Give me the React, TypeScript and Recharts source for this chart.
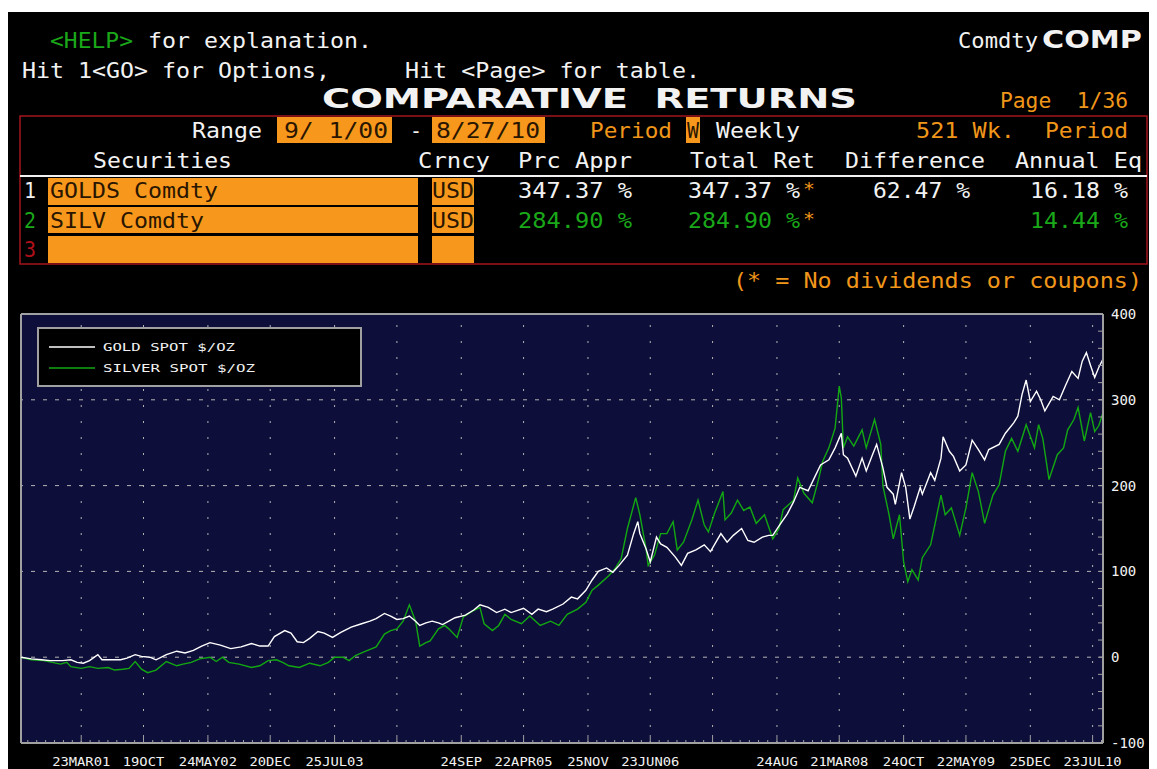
import React from 'react'
import { LineChart, Line, XAxis, YAxis, CartesianGrid, ReferenceLine } from 'recharts'

// weekly returns (%) since 9/1/00
const goldWeeks = [
  0, 5, 10, 14, 20, 24, 27, 30, 33, 37, 39, 44, 48, 51, 55, 58, 62, 65, 70, 75, 79, 83, 87, 91, 96,
  101, 106, 111, 115, 119, 122, 127, 130, 133, 136, 139, 143, 146, 150, 154, 159, 164, 168, 171, 175, 178,
  181, 184, 187, 190, 192, 195, 198, 201, 203, 206, 209, 214, 218, 221, 225, 229, 233, 236, 242, 246, 249,
  253, 256, 261, 265, 268, 272, 275, 278, 282, 285, 288, 292, 295, 297, 298, 301, 303, 306, 308, 311, 315,
  318, 321, 325, 329, 332, 337, 340, 343, 347, 350, 353, 357, 360, 362, 365, 369, 372, 375, 379, 382, 385,
  389, 392, 395, 396, 398, 402, 405, 407, 410, 412, 415, 417, 420, 421, 424, 426, 428, 430, 433, 434, 438,
  440, 443, 444, 447, 449, 452, 455, 458, 461, 464, 466, 471, 474, 478, 480, 482, 484, 486, 489, 491, 493,
  497, 500, 503, 506, 509, 511, 513, 515, 517, 519, 521,
]
const goldReturn = [
  0, -2, -3, -4, -4, -3, -6, -7, -4, 3, -3, -3, -3, -1, 3, 1, 0, -3, 3, 7, 5, 8, 13, 17, 14,
  10, 12, 16, 13, 13, 24, 31, 28, 18, 17, 22, 30, 28, 23, 29, 35, 39, 42, 45, 51, 48,
  44, 45, 48, 42, 37, 40, 42, 40, 38, 42, 46, 49, 55, 61, 58, 52, 56, 52, 57, 50, 56,
  53, 56, 62, 70, 68, 78, 90, 100, 104, 99, 107, 119, 144, 158, 144, 126, 111, 140, 132, 128, 117,
  107, 121, 125, 131, 123, 144, 134, 142, 150, 136, 134, 140, 142, 142, 153, 167, 181, 198, 194, 209, 224,
  230, 244, 261, 236, 232, 211, 232, 217, 236, 248, 221, 198, 190, 178, 215, 198, 161, 175, 198, 190, 215,
  206, 232, 257, 240, 234, 217, 224, 253, 242, 230, 242, 248, 261, 273, 281, 306, 323, 298, 310, 300, 287,
  304, 300, 317, 333, 325, 345, 355, 340, 326, 338, 347.37,
]

const silverWeeks = [
  0, 5, 11, 15, 19, 22, 24, 29, 33, 37, 42, 45, 49, 52, 55, 58, 61, 65, 70, 75, 78, 82, 86, 91, 94,
  97, 100, 105, 111, 115, 119, 123, 126, 129, 134, 139, 144, 148, 151, 155, 158, 161, 166, 171, 175, 178,
  181, 184, 187, 190, 192, 195, 197, 201, 204, 206, 210, 213, 217, 221, 223, 227, 230, 233, 236, 241, 245,
  250, 255, 259, 263, 268, 272, 275, 278, 283, 286, 289, 292, 296, 298, 301, 302, 305, 308, 311, 314, 316,
  319, 323, 326, 329, 331, 334, 338, 339, 342, 345, 348, 351, 354, 358, 362, 365, 367, 372, 374, 377, 381,
  384, 386, 389, 392, 394, 395, 396, 398, 401, 405, 407, 411, 414, 415, 418, 420, 423, 425, 427, 429, 432,
  434, 438, 440, 443, 445, 448, 452, 455, 458, 461, 464, 468, 471, 474, 477, 480, 484, 488, 490, 492, 495,
  499, 502, 504, 507, 509, 512, 515, 517, 519, 521,
]
const silverReturn = [
  0, -3, -4, -6, -8, -6, -11, -13, -11, -13, -12, -15, -14, -13, -5, -14, -18, -15, -5, -10, -8, -6, -2, 0, -5,
  0, -6, -8, -12, -10, -4, -3, -6, -10, -12, -7, -10, -6, 0, 0, -4, 2, 7, 12, 27, 31,
  33, 42, 61, 42, 13, 17, 19, 33, 37, 33, 23, 47, 53, 58, 39, 31, 37, 50, 44, 39, 48,
  37, 42, 37, 50, 56, 64, 78, 84, 95, 103, 115, 150, 186, 166, 126, 107, 119, 144, 144, 158, 125,
  134, 160, 183, 154, 146, 168, 193, 160, 168, 183, 171, 175, 156, 166, 138, 150, 172, 183, 209, 191, 180,
  207, 228, 244, 267, 316, 302, 244, 257, 246, 265, 244, 277, 248, 200, 166, 138, 166, 111, 88, 102, 90,
  116, 131, 154, 189, 166, 174, 142, 174, 215, 193, 156, 189, 201, 240, 255, 240, 271, 244, 271, 255, 207,
  236, 244, 265, 277, 291, 252, 285, 263, 270, 284.9,
]

// axis dates (week index from 9/1/00) and their labels; two labels are not printed
const dateTicks = [29, 59, 90, 120, 151, 181, 212, 242, 273, 303, 333, 364, 394, 425, 455, 486, 516]
const dateLabels = [
  '23MAR01', '19OCT', '24MAY02', '20DEC', '25JUL03', '', '24SEP', '22APR05', '25NOV', '23JUN06', '',
  '24AUG', '21MAR08', '24OCT', '22MAY09', '25DEC', '23JUL10',
]
const valueGrid = [0, 100, 200, 300]

const seriesNames = ['GOLD SPOT $/OZ', 'SILVER SPOT $/OZ']
const seriesColors = ['#ffffff', '#12a812']

const goldData = goldWeeks.map((w, i) => ({ week: w, gold: goldReturn[i] }))
const silverData = silverWeeks.map((w, i) => ({ week: w, silver: silverReturn[i] }))

// monthly minor ticks between the 7-month major ticks
const monthTicks: number[] = []
{
  const step = (dateTicks[1] - dateTicks[0]) / 7
  for (let t = dateTicks[0] - step; t > 0; t -= step) monthTicks.push(t)
  for (let i = 0; i < dateTicks.length - 1; i++) {
    const a = dateTicks[i]
    const b = dateTicks[i + 1]
    for (let k = 1; k < 7; k++) monthTicks.push(a + ((b - a) * k) / 7)
  }
  monthTicks.push(dateTicks[dateTicks.length - 1] + step)
}
const xTicks = [...dateTicks, ...monthTicks].sort((a, b) => a - b)
const yTicks: number[] = []
for (let v = -100; v <= 400; v += 20) yTicks.push(v)

const WHITE = '#f2f2f2'
const ORANGE = '#f0961a'
const BOX = '#f7981c'
const GREEN = '#1aa81a'
const INK = '#2a1600'
const MONO = '"DejaVu Sans Mono", monospace'

function DateTick(props: any) {
  const { x, y, payload } = props
  const idx = dateTicks.indexOf(payload.value)
  if (idx < 0) {
    return <line x1={x} x2={x} y1={y} y2={y - 3} stroke="#a0a0a0" strokeWidth={1} />
  }
  const label = dateLabels[idx]
  return (
    <g>
      <line x1={x} x2={x} y1={y} y2={y - 8} stroke="#a0a0a0" strokeWidth={1} />
      {label && (
        <text
          x={x}
          y={y + 23}
          textAnchor="middle"
          fill={WHITE}
          fontSize={13}
          fontFamily="DejaVu Sans Mono, monospace"
          textLength={label.length * 8.3}
          lengthAdjust="spacingAndGlyphs"
        >
          {label}
        </text>
      )}
    </g>
  )
}

function ValueTick(props: any) {
  const { x, y, payload } = props
  const v = payload.value
  return (
    <g>
      {v > -100 && v < 400 && <line x1={x} x2={x - 5} y1={y} y2={y} stroke="#a0a0a0" strokeWidth={1} />}
      {v % 100 === 0 && (
        <text x={x + 8} y={y + 5} textAnchor="start" fill={WHITE} fontSize={14} fontFamily="DejaVu Sans Mono, monospace">
          {v}
        </text>
      )}
    </g>
  )
}

function T({ x, y, len, fill = WHITE, children, size = 22, bold = false, family = MONO }: any) {
  return (
    <text
      x={x}
      y={y}
      textLength={len}
      lengthAdjust="spacingAndGlyphs"
      fill={fill}
      fontSize={size}
      fontWeight={bold ? 'bold' : 'normal'}
      fontFamily={family}
      style={{ whiteSpace: 'pre' }}
    >
      {children}
    </text>
  )
}

function Header() {
  return (
    <svg width={1149} height={290} style={{ position: 'absolute', left: 0, top: 0 }}>
      <T x={42} y={36} len={83} fill={GREEN}>{'<HELP>'}</T>
      <T x={140} y={36} len={224}>for explanation.</T>
      <T x={950} y={36} len={80}>Comdty</T>
      <T x={1034} y={36} len={100} size={24} bold family="DejaVu Sans, sans-serif">COMP</T>

      <T x={14} y={66} len={308}>{'Hit 1<GO> for Options,'}</T>
      <T x={397} y={66} len={295}>{'Hit <Page> for table.'}</T>

      <T x={314} y={96} len={535} size={26} bold family="DejaVu Sans, sans-serif">{'COMPARATIVE  RETURNS'}</T>
      <T x={992} y={96} len={128} fill={ORANGE}>{'Page  1/36'}</T>

      <rect x={12} y={104} width={1127} height={148} fill="none" stroke="#a3141c" strokeWidth={1.5} />

      <T x={184} y={126} len={70}>Range</T>
      <rect x={269} y={105} width={115} height={26} fill={BOX} />
      <T x={276} y={126} len={104} fill={INK}>{'9/ 1/00'}</T>
      <T x={402} y={126} len={12}>-</T>
      <rect x={424} y={105} width={113} height={26} fill={BOX} />
      <T x={428} y={126} len={104} fill={INK}>8/27/10</T>
      <T x={582} y={126} len={82} fill={ORANGE}>Period</T>
      <rect x={678} y={105} width={14} height={26} fill={BOX} />
      <T x={679} y={126} len={12} fill={INK}>W</T>
      <T x={708} y={126} len={84}>Weekly</T>
      <T x={908} y={126} len={99} fill={ORANGE}>521 Wk.</T>
      <T x={1037} y={126} len={83} fill={ORANGE}>Period</T>

      <T x={85} y={156} len={139}>Securities</T>
      <T x={410} y={156} len={72}>Crncy</T>
      <T x={510} y={156} len={114}>Prc Appr</T>
      <T x={682} y={156} len={125}>Total Ret</T>
      <T x={837} y={156} len={140}>Difference</T>
      <T x={1007} y={156} len={127}>Annual Eq</T>
      <line x1={12} x2={1139} y1={164} y2={164} stroke={WHITE} strokeWidth={2} />

      <rect x={40} y={166} width={370} height={27} fill={BOX} />
      <rect x={424} y={166} width={42} height={27} fill={BOX} />
      <rect x={40} y={195} width={370} height={26} fill={BOX} />
      <rect x={424} y={195} width={42} height={26} fill={BOX} />
      <rect x={40} y={224} width={370} height={27} fill={BOX} />
      <rect x={424} y={224} width={42} height={27} fill={BOX} />

      <T x={16} y={186} len={12}>1</T>
      <T x={42} y={186} len={168} fill={INK}>GOLDS Comdty</T>
      <T x={424} y={186} len={42} fill={INK}>USD</T>
      <T x={510} y={186} len={114}>347.37 %</T>
      <T x={680} y={186} len={112}>347.37 %</T>
      <T x={795} y={183} len={12} size={18} fill={ORANGE}>*</T>
      <T x={865} y={186} len={97}>62.47 %</T>
      <T x={1022} y={186} len={98}>16.18 %</T>

      <T x={16} y={216} len={12} fill={GREEN}>2</T>
      <T x={42} y={216} len={154} fill={INK}>SILV Comdty</T>
      <T x={424} y={216} len={42} fill={INK}>USD</T>
      <T x={510} y={216} len={114} fill={GREEN}>284.90 %</T>
      <T x={680} y={216} len={112} fill={GREEN}>284.90 %</T>
      <T x={795} y={213} len={12} size={18} fill={ORANGE}>*</T>
      <T x={1022} y={216} len={98} fill={GREEN}>14.44 %</T>

      <T x={16} y={245} len={12} fill="#b0101a">3</T>

      <T x={725} y={276} len={409} fill={ORANGE}>(* = No dividends or coupons)</T>
    </svg>
  )
}

function LegendBox() {
  return (
    <div
      style={{
        position: 'absolute',
        left: 29,
        top: 315,
        width: 321,
        height: 56,
        background: '#000',
        border: '2px solid #a0a0a0',
      }}
    >
      <svg width={321} height={56}>
        {seriesNames.map((name, i) => (
          <g key={name}>
            <line x1={10} x2={56} y1={18 + i * 21} y2={18 + i * 21} stroke={seriesColors[i]} strokeWidth={1.5} />
            <text
              x={64}
              y={22 + i * 21}
              fill={WHITE}
              fontSize={11}
              fontFamily="DejaVu Sans Mono, monospace"
              textLength={i === 0 ? 132 : 152}
              lengthAdjust="spacingAndGlyphs"
            >
              {name}
            </text>
          </g>
        ))}
      </svg>
    </div>
  )
}

export default function App() {
  return (
    <div style={{ position: 'relative', marginTop: 4, width: 1149, height: 757, background: '#000', overflow: 'hidden' }}>
      <Header />
      <div style={{ position: 'absolute', left: 0, top: 290 }}>
        <LineChart width={1149} height={467} margin={{ top: 12, right: 0, bottom: 0, left: 13 }}>
          <CartesianGrid horizontal={false} vertical={false} fill="#0e0e3a" />
          <XAxis
            dataKey="week"
            type="number"
            domain={[0, 521]}
            ticks={xTicks}
            interval={0}
            allowDataOverflow
            tickLine={false}
            tickSize={0}
            tickMargin={0}
            height={26}
            axisLine={{ stroke: '#a0a0a0', strokeWidth: 2 }}
            tick={(p: any) => <DateTick {...p} />}
          />
          <YAxis
            orientation="right"
            type="number"
            domain={[-100, 400]}
            ticks={yTicks}
            interval={0}
            allowDataOverflow
            tickLine={false}
            tickSize={0}
            tickMargin={0}
            width={54}
            axisLine={{ stroke: '#a0a0a0', strokeWidth: 2 }}
            tick={(p: any) => <ValueTick {...p} />}
          />
          {valueGrid.map((v) => (
            <ReferenceLine key={'h' + v} y={v} stroke="#b4b4b4" strokeDasharray="4 8" />
          ))}
          {dateTicks.map((w) => (
            <ReferenceLine key={'v' + w} x={w} stroke="#b4b4b4" strokeDasharray="2 14" />
          ))}
          <ReferenceLine y={400} stroke="#a0a0a0" strokeWidth={2} />
          <ReferenceLine x={0} stroke="#a0a0a0" strokeWidth={2} />
          <Line
            data={silverData}
            dataKey="silver"
            type="linear"
            stroke={seriesColors[1]}
            strokeWidth={1.4}
            dot={false}
            isAnimationActive={false}
          />
          <Line
            data={goldData}
            dataKey="gold"
            type="linear"
            stroke={seriesColors[0]}
            strokeWidth={1.4}
            dot={false}
            isAnimationActive={false}
          />
        </LineChart>
      </div>
      <LegendBox />
    </div>
  )
}
